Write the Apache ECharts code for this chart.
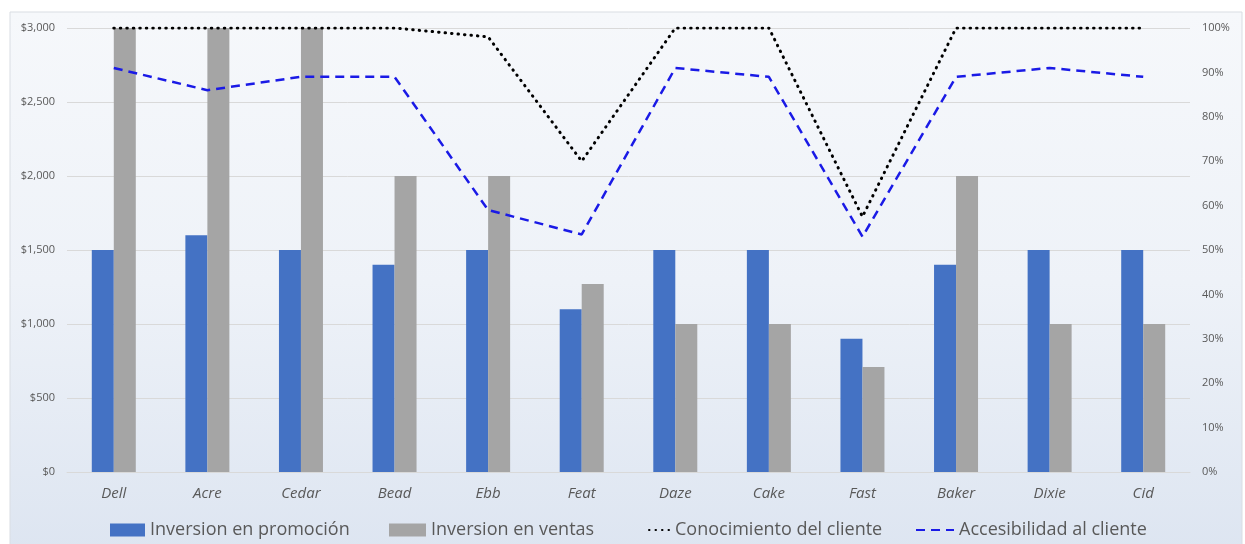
<!DOCTYPE html>
<html><head><meta charset="utf-8">
<script src="https://cdn.jsdelivr.net/npm/echarts@6/dist/echarts.min.js"></script>
<style>html,body{margin:0;padding:0;background:#fff}#c{width:1245px;height:544px}</style>
</head><body><div id="c"></div>
<script>
const categories = ['Dell','Acre','Cedar','Bead','Ebb','Feat','Daze','Cake','Fast','Baker','Dixie','Cid'];
const promocion = [1500,1600,1500,1400,1500,1100,1500,1500,900,1400,1500,1500];
const ventas = [3000,3000,3000,2000,2000,1270,1000,1000,710,2000,1000,1000];
const conocimiento = [100,100,100,100,98,70,100,100,57.5,100,100,100];
const accesibilidad = [91,86,89,89,59,53.5,91,89,53,89,91,89];
const seriesNames = ['Inversion en promoción','Inversion en ventas','Conocimiento del cliente','Accesibilidad al cliente'];

const chart = echarts.init(document.getElementById('c'), null, {renderer:'canvas'});
const txt = '#595959';
const hideSym = {color:'rgba(0,0,0,0)',borderWidth:0,opacity:0};
function leg(name, left, w, extra){
  return Object.assign({top:521,left:left,padding:0,itemWidth:w,itemHeight:13,
    textStyle:{color:txt,fontSize:18,fontFamily:'Open Sans'},data:[name]}, extra||{});
}
chart.setOption({
  animation:false,
  graphic:[{type:'rect',z:-10,silent:true,shape:{x:10,y:12,width:1232,height:540},
    style:{fill:new echarts.graphic.LinearGradient(0,0,0,1,[{offset:0,color:'#f6f8fb'},{offset:0.5,color:'#eef2f8'},{offset:1,color:'#dde5f1'}]),stroke:'#d9dde3',lineWidth:1}}],
  grid:{left:67,right:55,top:28,bottom:72},
  legend:[
    leg(seriesNames[0],110,35,{icon:'rect'}),
    leg(seriesNames[1],389,37,{icon:'rect'}),
    leg({name:seriesNames[2],itemStyle:hideSym},648,21),
    leg({name:seriesNames[3],itemStyle:hideSym},915,38)
  ].map(l=>{ if(typeof l.data[0]==='object'){} return l; }),
  xAxis:{type:'category',data:categories,
    axisLine:{lineStyle:{color:'#d9d9d9'}},axisTick:{show:false},
    axisLabel:{color:txt,fontSize:15,fontStyle:'italic',margin:14,fontFamily:'Open Sans'}},
  yAxis:[
    {type:'value',min:0,max:3000,interval:500,
     axisLabel:{color:txt,fontSize:11,fontFamily:'Open Sans',margin:12,formatter:v=>'$'+v.toLocaleString('en-US')},
     splitLine:{lineStyle:{color:'#d9d9d9'}},axisLine:{show:false},axisTick:{show:false}},
    {type:'value',min:0,max:100,interval:10,
     axisLabel:{color:txt,fontSize:11,fontFamily:'Open Sans',margin:12,formatter:'{value}%'},
     splitLine:{show:false},axisLine:{show:false},axisTick:{show:false}}
  ],
  series:[
    {name:seriesNames[0],type:'bar',data:promocion,barWidth:22,barGap:'0%',itemStyle:{color:'#4472c4'}},
    {name:seriesNames[1],type:'bar',data:ventas,barWidth:22,barGap:'0%',itemStyle:{color:'#a5a5a5'}},
    {name:seriesNames[2],type:'line',yAxisIndex:1,data:conocimiento,symbol:'none',
     lineStyle:{color:'#000000',width:3,type:[0.5,6],cap:'round'},itemStyle:{color:'#000'}},
    {name:seriesNames[3],type:'line',yAxisIndex:1,data:accesibilidad,symbol:'none',
     lineStyle:{color:'#1a1ae6',width:2.5,type:[9,6]},itemStyle:{color:'#1a1ae6'}}
  ]
});
</script></body></html>
